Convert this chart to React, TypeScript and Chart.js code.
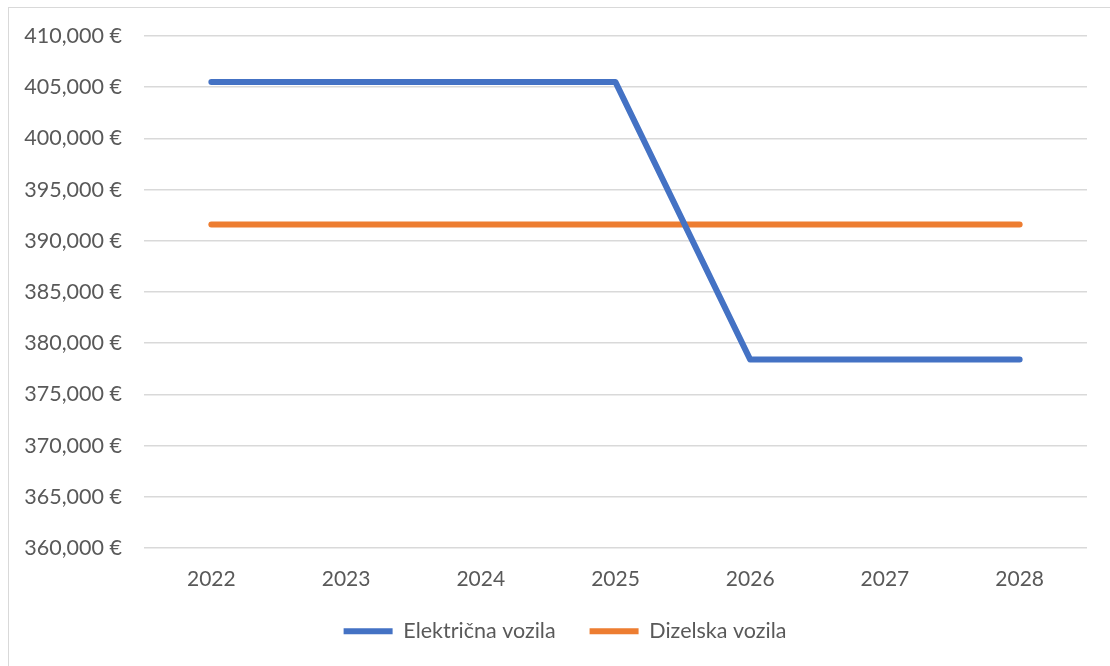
import React, { useEffect, useRef } from "react";
import { Chart, registerables } from "chart.js";

Chart.register(...registerables);

const categories = ["2022", "2023", "2024", "2025", "2026", "2027", "2028"];
const elektricna = [405500, 405500, 405500, 405500, 378400, 378400, 378400];
const dizelska = [391600, 391600, 391600, 391600, 391600, 391600, 391600];
const yMin = 360000;
const yMax = 410000;
const yStep = 5000;

const FONT = "Lato, 'Open Sans', sans-serif";
const TEXT = "#595959";

const legendShift = {
  id: "legendShift",
  afterLayout(chart: any) {
    const lg = chart.legend;
    if (lg) {
      lg.left += 34;
    }
  },
};

export default function App() {
  const ref = useRef<HTMLCanvasElement | null>(null);

  useEffect(() => {
    if (!ref.current) return;
    const chart = new Chart(ref.current, {
      type: "line",
      data: {
        labels: categories,
        datasets: [
          {
            label: "Električna vozila",
            data: elektricna,
            borderColor: "#4472C4",
            backgroundColor: "#4472C4",
            borderWidth: 6,
            borderCapStyle: "round",
            borderJoinStyle: "round",
            pointRadius: 0,
            tension: 0,
          },
          {
            label: "Dizelska vozila",
            data: dizelska,
            borderColor: "#ED7D31",
            backgroundColor: "#ED7D31",
            borderWidth: 6,
            borderCapStyle: "round",
            borderJoinStyle: "round",
            pointRadius: 0,
            tension: 0,
          },
        ],
      },
      plugins: [legendShift],
      options: {
        animation: false,
        responsive: false,
        maintainAspectRatio: false,
        layout: { padding: { left: 0, right: 34, top: 28, bottom: 46 } },
        plugins: {
          tooltip: { enabled: false },
          legend: {
            position: "bottom",
            labels: {
              usePointStyle: true,
              pointStyle: "line",
              pointStyleWidth: 49,
              boxHeight: 6,
              padding: 34,
              color: TEXT,
              font: { family: FONT, size: 21.5 },
            },
          },
        },
        scales: {
          x: {
            offset: true,
            grid: { display: false, drawTicks: false },
            border: { display: false },
            ticks: { color: TEXT, font: { family: FONT, size: 21 }, padding: 19 },
            afterFit: (s: any) => {
              s.height = 38.5;
            },
          },
          y: {
            min: yMin,
            max: yMax,
            grid: {
              color: "#D9D9D9",
              lineWidth: 1.5,
              drawTicks: true,
              tickLength: 22,
              tickColor: "rgba(0,0,0,0)",
            },
            border: { display: false },
            ticks: {
              stepSize: yStep,
              color: TEXT,
              padding: 0,
              font: { family: FONT, size: 21.5 },
              callback: (v: any) => Number(v).toLocaleString("en-US") + " €",
            },
            afterFit: (s: any) => {
              s.width = 135;
            },
          },
        },
      },
    });
    return () => chart.destroy();
  }, []);

  return (
    <div
      style={{
        position: "absolute",
        left: 8,
        top: 7,
        width: 1102,
        height: 659,
        overflow: "hidden",
      }}
    >
      <div
        style={{
          border: "1px solid #D9D9D9",
          width: 1112,
          height: 690,
          background: "#fff",
        }}
      >
        <canvas ref={ref} width={1112} height={690} style={{ display: "block" }} />
      </div>
    </div>
  );
}
